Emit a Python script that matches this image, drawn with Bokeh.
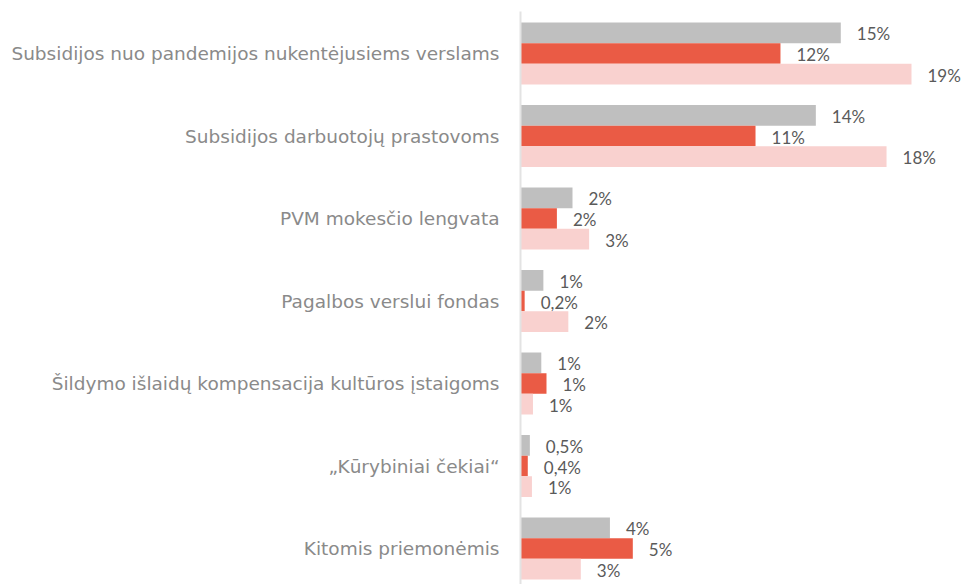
from bokeh.plotting import figure
from bokeh.models import ColumnDataSource, Range1d, FixedTicker
from bokeh.core.properties import value
from bokeh.embed import file_html
from bokeh.resources import INLINE

categories = [
    "Subsidijos nuo pandemijos nukentėjusiems verslams",
    "Subsidijos darbuotojų prastovoms",
    "PVM mokesčio lengvata",
    "Pagalbos verslui fondas",
    "Šildymo išlaidų kompensacija kultūros įstaigoms",
    "„Kūrybiniai čekiai“",
    "Kitomis priemonėmis",
]

gray_values = [15.4, 14.2, 2.5, 1.1, 1.0, 0.45, 4.3]
red_values = [12.5, 11.3, 1.75, 0.2, 1.25, 0.35, 5.4]
pink_values = [18.8, 17.6, 3.3, 2.3, 0.6, 0.55, 2.9]

gray_labels = ["15%", "14%", "2%", "1%", "1%", "0,5%", "4%"]
red_labels = ["12%", "11%", "2%", "0,2%", "1%", "0,4%", "5%"]
pink_labels = ["19%", "18%", "3%", "2%", "1%", "1%", "3%"]

series = [
    (gray_values, gray_labels, "#bfbfbf", -0.25),
    (red_values, red_labels, "#ea5b45", 0.0),
    (pink_values, pink_labels, "#f9d1cf", 0.25),
]

LABEL_FONT = "DejaVu Sans"
VALUE_FONT = "Lato"

p = figure(
    width=963, height=584,
    output_backend="svg", toolbar_location=None,
    x_range=Range1d(0, 21.3),
    y_range=Range1d(6.436, -0.509),
    x_axis_location=None,
    min_border_left=520, min_border_top=11, min_border_bottom=0, min_border_right=0,
)
p.outline_line_color = None
p.xgrid.visible = False
p.ygrid.visible = False
p.background_fill_color = "white"
p.border_fill_color = "white"

for vals, labels, color, off in series:
    src = ColumnDataSource(dict(
        y=[i + off for i in range(len(categories))],
        v=vals,
        lbl=labels,
    ))
    p.hbar(y="y", left=0, right="v", height=0.25, source=src,
           fill_color=color, line_color=None)
    p.text(x="v", y="y", text="lbl", source=src, x_offset=16, y_offset=1,
           text_align="left", text_baseline="middle",
           text_font=value(VALUE_FONT), text_font_size="17px", text_color="#5a5a5a")

yax = p.yaxis[0]
yax.ticker = FixedTicker(ticks=list(range(len(categories))))
yax.major_label_overrides = {i: c for i, c in enumerate(categories)}
yax.major_tick_line_color = None
yax.minor_tick_line_color = None
yax.major_tick_out = 0
yax.major_tick_in = 0
yax.major_label_standoff = 21
yax.axis_line_color = "#e3e3e3"
yax.axis_line_width = 2
yax.major_label_text_font = LABEL_FONT
yax.major_label_text_font_size = "18.5px"
yax.major_label_text_color = "#8a8a8a"

open("out.html", "w").write(file_html(p, INLINE))
